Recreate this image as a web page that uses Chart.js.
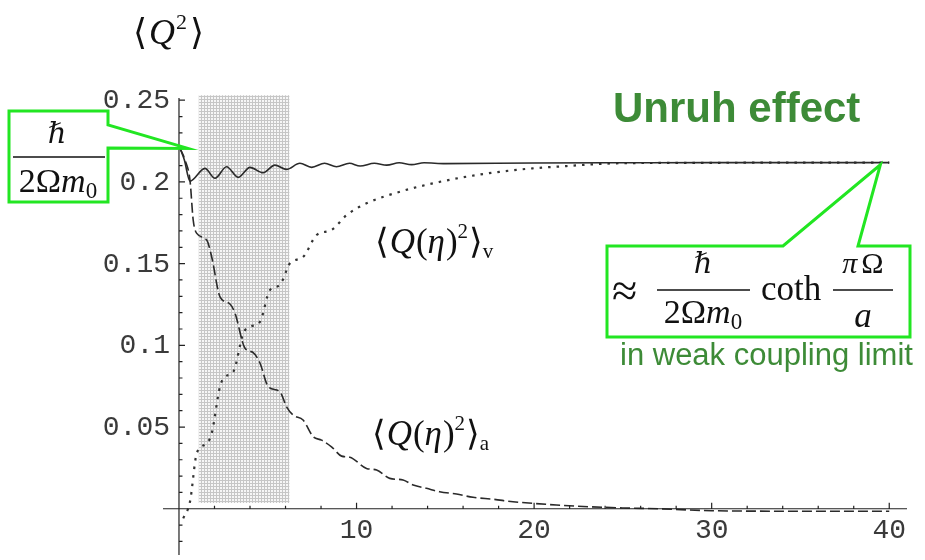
<!DOCTYPE html>
<html>
<head>
<meta charset="utf-8">
<script src="https://cdn.jsdelivr.net/npm/chart.js@4/dist/chart.umd.min.js"></script>
<style>
  html, body { margin: 0; padding: 0; background: #fff; }
  #grafico { display: block; }
</style>
</head>
<body>
<canvas id="grafico" width="925" height="560"></canvas>
<script>
// <Q^2> total (linha cheia)
const totalEta = [0.06, 0.3, 0.62, 1.46, 2.03, 2.68, 3.34, 4.0, 4.74, 5.4, 6.06, 6.81, 7.47, 8.2, 8.87, 9.6, 10.2, 11.0, 11.7, 12.4, 13.1, 13.8, 15, 20, 25, 30, 35, 40];
const totalQ = [0.2205, 0.2135, 0.2005, 0.2083, 0.2022, 0.2093, 0.2028, 0.2089, 0.2056, 0.2103, 0.2077, 0.2114, 0.2089, 0.2114, 0.2093, 0.2114, 0.2097, 0.2114, 0.2103, 0.2117, 0.2106, 0.2117, 0.2112, 0.2116, 0.2117, 0.2118, 0.2118, 0.2118];

// <Q(eta)^2>_v (pontilhada)
const vacEta = [0.24, 0.62, 1.0, 1.56, 1.84, 2.31, 2.59, 3.06, 3.62, 4.0, 4.56, 5.12, 5.68, 6.25, 7.0, 7.75, 8.59, 9.44, 10.56, 12.44, 14.29, 16.19, 18.06, 19.92, 21.82, 23.69, 24.63, 27, 30, 35, 40];
const vacQ = [-0.0059, 0.0043, 0.0339, 0.0400, 0.0461, 0.0747, 0.0808, 0.0838, 0.1073, 0.1114, 0.1144, 0.1338, 0.1369, 0.1502, 0.1542, 0.1675, 0.1706, 0.1797, 0.1869, 0.1940, 0.1991, 0.2032, 0.2062, 0.2083, 0.2097, 0.2110, 0.2114, 0.2116, 0.2117, 0.2118, 0.2118];

// <Q(eta)^2>_a (tracejada)
const accEta = [0.06, 0.34, 0.62, 0.8, 1.0, 1.56, 1.84, 2.31, 2.87, 3.15, 3.71, 4.18, 4.56, 5.03, 5.68, 6.06, 6.43, 6.99, 7.56, 8.03, 8.59, 9.16, 9.62, 10.56, 11.13, 11.87, 12.62, 13.19, 13.94, 14.68, 15.63, 16.56, 17.69, 18.81, 19.94, 21.25, 23.13, 25, 27, 30, 35, 40];
const accQ = [0.2205, 0.2134, 0.2010, 0.1767, 0.1685, 0.1644, 0.1542, 0.1297, 0.1253, 0.1198, 0.0984, 0.0955, 0.0892, 0.0747, 0.0716, 0.0624, 0.0573, 0.0543, 0.0441, 0.0420, 0.0379, 0.0322, 0.0315, 0.0247, 0.0237, 0.0186, 0.0176, 0.0145, 0.0125, 0.0104, 0.0090, 0.0070, 0.0058, 0.0043, 0.0033, 0.0023, 0.0012, 0.0005, 0.0, -0.0012, -0.0015, -0.0015];

// faixa sombreada
const bandEta = [1.1, 6.23];
const bandQ = [0.0035, 0.2531];

const xTicks = [10, 20, 30, 40];
const xTickLabels = ['10', '20', '30', '40'];
const xMinorTicks = [2, 4, 6, 8, 12, 14, 16, 18, 22, 24, 26, 28, 32, 34, 36, 38];
const yTicks = [0.05, 0.1, 0.15, 0.2, 0.25];
const yTickLabels = ['0.05', '0.1', '0.15', '0.2', '0.25'];
const yMinorTicks = [-0.02, -0.01, 0.01, 0.02, 0.03, 0.04, 0.06, 0.07, 0.08, 0.09, 0.11, 0.12, 0.13, 0.14, 0.16, 0.17, 0.18, 0.19, 0.21, 0.22, 0.23, 0.24];

const serif = '"Liberation Serif", "DejaVu Serif", "DejaVu Sans", serif';
const verde = '#22e622';
const verdeTexto = '#3d8b37';

function pontos(xs, ys) {
  return xs.map((v, i) => ({ x: v, y: ys[i] }));
}

function padrao() {
  const c = document.createElement('canvas');
  c.width = 3; c.height = 3;
  const g = c.getContext('2d');
  g.fillStyle = '#f6f6f6';
  g.fillRect(0, 0, 3, 3);
  g.fillStyle = '#c6c6c6';
  g.fillRect(0, 0, 3, 1);
  g.fillRect(0, 0, 1, 3);
  return g.createPattern(c, 'repeat');
}

// escreve pedaços de texto com fontes diferentes em sequência
function trechos(ctx, partes, x, y, centro) {
  let w = 0;
  partes.forEach(p => { ctx.font = p.f; w += ctx.measureText(p.t).width + (p.gap || 0); });
  let cx = centro ? x - w / 2 : x;
  partes.forEach(p => {
    ctx.font = p.f;
    ctx.fillText(p.t, cx, y + (p.dy || 0));
    cx += ctx.measureText(p.t).width + (p.gap || 0);
  });
}

function caixa(ctx, pts) {
  ctx.beginPath();
  ctx.moveTo(pts[0][0], pts[0][1]);
  pts.slice(1).forEach(p => ctx.lineTo(p[0], p[1]));
  ctx.closePath();
  ctx.fillStyle = '#fff';
  ctx.fill();
  ctx.stroke();
}

const eixos = {
  id: 'eixos',
  afterDatasetsDraw(chart) {
    const { ctx, chartArea, scales: { x, y } } = chart;
    const x0 = x.getPixelForValue(0), y0 = y.getPixelForValue(0);
    ctx.save();
    ctx.strokeStyle = '#222';
    ctx.lineWidth = 1.2;
    ctx.beginPath();
    ctx.moveTo(x0, y.getPixelForValue(0.2513));
    ctx.lineTo(x0, chartArea.bottom);
    ctx.moveTo(chartArea.left, y0);
    ctx.lineTo(chartArea.right, y0);
    yTicks.forEach(v => { const p = y.getPixelForValue(v); ctx.moveTo(x0, p); ctx.lineTo(x0 + 6, p); });
    yMinorTicks.forEach(v => { const p = y.getPixelForValue(v); ctx.moveTo(x0, p); ctx.lineTo(x0 + 3.5, p); });
    xTicks.forEach(v => { const p = x.getPixelForValue(v); ctx.moveTo(p, y0); ctx.lineTo(p, y0 - 6); });
    xMinorTicks.forEach(v => { const p = x.getPixelForValue(v); ctx.moveTo(p, y0); ctx.lineTo(p, y0 - 3); });
    ctx.stroke();

    ctx.fillStyle = '#3a3a3a';
    ctx.font = '28px "Liberation Mono", "DejaVu Sans Mono", monospace';
    ctx.textAlign = 'right';
    yTicks.forEach((v, i) => ctx.fillText(yTickLabels[i], x0 - 9, y.getPixelForValue(v) + 8));
    ctx.textAlign = 'center';
    xTicks.forEach((v, i) => ctx.fillText(xTickLabels[i], x.getPixelForValue(v), y0 + 29));
    ctx.restore();
  },
  afterDraw(chart) {
    const { ctx, scales: { x, y } } = chart;
    ctx.save();
    ctx.textAlign = 'left';
    ctx.textBaseline = 'alphabetic';
    ctx.fillStyle = '#111';

    // rótulo do eixo y
    trechos(ctx, [
      { t: '\u27E8', f: `36px ${serif}`, gap: 2 },
      { t: 'Q', f: `italic 36px ${serif}`, gap: 1 },
      { t: '2', f: `22px ${serif}`, dy: -15, gap: 3 },
      { t: '\u27E9', f: `36px ${serif}` }
    ], 133, 44);

    // rótulos das curvas
    const rotulo = (sub, px, py) => trechos(ctx, [
      { t: '\u27E8', f: `35px ${serif}`, gap: 1 },
      { t: 'Q', f: `italic 35px ${serif}`, gap: 1 },
      { t: '(', f: `35px ${serif}` },
      { t: '\u03B7', f: `italic 35px ${serif}`, gap: 1 },
      { t: ')', f: `35px ${serif}` },
      { t: '2', f: `21px ${serif}`, dy: -15, gap: 1 },
      { t: '\u27E9', f: `35px ${serif}` },
      { t: sub, f: `21px ${serif}`, dy: 5 }
    ], px, py);
    rotulo('v', 375, 253);
    rotulo('a', 372, 445);

    // caixas verdes
    ctx.strokeStyle = verde;
    ctx.lineWidth = 3;
    const tipL = [x.getPixelForValue(0.5), y.getPixelForValue(0.2205)];
    caixa(ctx, [[9, 111], [108, 111], [108, 125], tipL, [108, 148], [108, 202], [9, 202]]);
    const tipR = [x.getPixelForValue(39.5), y.getPixelForValue(0.2105)];
    caixa(ctx, [[607, 246], [783, 246], tipR, [858, 246], [910, 246], [910, 337], [607, 337]]);

    ctx.fillStyle = '#111';
    ctx.strokeStyle = '#111';
    ctx.lineWidth = 1.4;
    const denom = [
      { t: '2', f: `34px ${serif}` },
      { t: '\u03A9', f: `34px ${serif}` },
      { t: 'm', f: `italic 34px ${serif}` },
      { t: '0', f: `23px ${serif}`, dy: 6 }
    ];
    // h-barra / 2 Omega m0 à esquerda
    trechos(ctx, [{ t: '\u210F', f: `italic 29px ${serif}` }], 57, 143, true);
    ctx.beginPath(); ctx.moveTo(13, 157); ctx.lineTo(105, 157); ctx.stroke();
    trechos(ctx, denom, 58, 192, true);

    // aproximação à direita
    trechos(ctx, [{ t: '\u2248', f: `46px ${serif}` }], 612, 306);
    trechos(ctx, [{ t: '\u210F', f: `italic 29px ${serif}` }], 703, 273, true);
    ctx.beginPath(); ctx.moveTo(657, 290); ctx.lineTo(750, 290); ctx.stroke();
    trechos(ctx, denom, 703, 323, true);
    trechos(ctx, [{ t: 'coth', f: `35px ${serif}` }], 761, 300);
    trechos(ctx, [
      { t: '\u03C0', f: `italic 30px ${serif}`, gap: 4 },
      { t: '\u03A9', f: `30px ${serif}` }
    ], 863, 273, true);
    ctx.beginPath(); ctx.moveTo(833, 290); ctx.lineTo(893, 290); ctx.stroke();
    trechos(ctx, [{ t: 'a', f: `italic 35px ${serif}` }], 863, 327, true);

    // textos verdes
    ctx.fillStyle = verdeTexto;
    ctx.font = 'bold 42px "Liberation Sans", Arial, sans-serif';
    ctx.fillText('Unruh effect', 613, 122);
    ctx.font = '31px "Liberation Sans", Arial, sans-serif';
    ctx.fillText('in weak coupling limit', 620, 365);
    ctx.restore();
  }
};

const linha = { pointRadius: 0, borderColor: '#2a2a2a', borderWidth: 1.6, fill: false, cubicInterpolationMode: 'monotone' };

new Chart(document.getElementById('grafico'), {
  type: 'line',
  data: {
    datasets: [
      Object.assign({}, linha, { label: 'total', data: pontos(totalEta, totalQ), order: 1 }),
      Object.assign({}, linha, { label: 'a', data: pontos(accEta, accQ), order: 2, borderDash: [10, 4] }),
      Object.assign({}, linha, { label: 'v', data: pontos(vacEta, vacQ), order: 3, borderDash: [2.5, 6], borderWidth: 2.2, borderColor: '#333' }),
      {
        label: 'faixa',
        data: pontos(bandEta, [bandQ[1], bandQ[1]]),
        fill: { value: bandQ[0] },
        backgroundColor: padrao(),
        borderWidth: 0,
        pointRadius: 0,
        order: 10
      }
    ]
  },
  options: {
    responsive: false,
    animation: false,
    devicePixelRatio: 1,
    events: [],
    layout: { padding: { left: 163, right: 18, top: 94, bottom: 5 } },
    scales: {
      x: { type: 'linear', min: -0.9, max: 41, display: false },
      y: { type: 'linear', min: -0.0283, max: 0.2538, display: false }
    },
    plugins: { legend: { display: false }, tooltip: { enabled: false } }
  },
  plugins: [eixos]
});
</script>
</body>
</html>
